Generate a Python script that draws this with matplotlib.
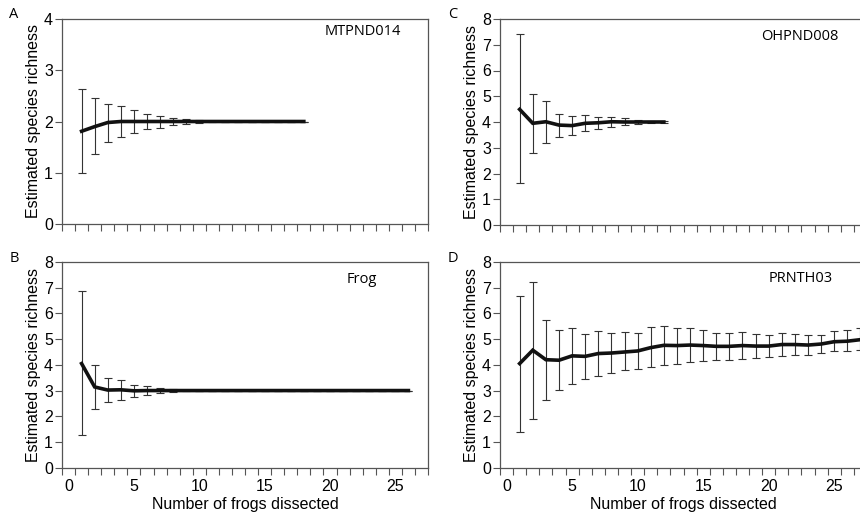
import numpy as np
import matplotlib
matplotlib.use('Agg')
import matplotlib.pyplot as plt
from matplotlib.ticker import MultipleLocator

plt.rcParams['font.family'] = ['Liberation Sans', 'DejaVu Sans']
plt.rcParams['font.size'] = 11

# Panel A - MTPND014
a_mean = [1.81, 1.90, 1.98, 2.0, 2.0, 2.0, 2.0, 2.0, 2.0, 2.0, 2.0, 2.0, 2.0, 2.0, 2.0, 2.0, 2.0, 2.0]
a_low = [1.00, 1.36, 1.60, 1.69, 1.78, 1.85, 1.88, 1.93, 1.95, 1.98, 1.99, 2.0, 2.0, 2.0, 2.0, 2.0, 2.0, 2.0]
a_high = [2.63, 2.45, 2.34, 2.30, 2.22, 2.14, 2.11, 2.06, 2.04, 2.02, 2.01, 2.0, 2.0, 2.0, 2.0, 2.0, 2.0, 2.0]

# Panel B - Frog
b_mean = [4.05, 3.14, 3.02, 3.03, 2.99, 3.0, 3.0, 3.0, 3.0] + [3.0] * 17
b_low = [1.26, 2.30, 2.54, 2.62, 2.75, 2.83, 2.91, 2.95, 2.98] + [3.0] * 17
b_high = [6.87, 3.98, 3.48, 3.42, 3.23, 3.16, 3.09, 3.05, 3.02] + [3.0] * 17

# Panel C - OHPND008
c_mean = [4.49, 3.95, 4.01, 3.88, 3.86, 3.95, 3.97, 4.01, 4.0, 4.0, 4.0, 4.0]
c_low = [1.62, 2.78, 3.20, 3.43, 3.48, 3.64, 3.73, 3.82, 3.88, 3.92, 3.95, 3.97]
c_high = [7.40, 5.07, 4.80, 4.30, 4.22, 4.26, 4.21, 4.18, 4.14, 4.09, 4.05, 4.03]

# Panel D - PRNTH03
d_mean = [4.05, 4.57, 4.20, 4.18, 4.35, 4.33, 4.44, 4.46, 4.50, 4.54, 4.67, 4.76, 4.75, 4.77,
          4.75, 4.72, 4.72, 4.75, 4.73, 4.73, 4.79, 4.79, 4.77, 4.81, 4.90, 4.92, 4.98]
d_low = [1.39, 1.91, 2.65, 3.01, 3.24, 3.44, 3.57, 3.67, 3.79, 3.85, 3.92, 3.98, 4.05, 4.10,
         4.14, 4.18, 4.20, 4.24, 4.28, 4.31, 4.36, 4.37, 4.38, 4.46, 4.53, 4.54, 4.56]
d_high = [6.69, 7.21, 5.76, 5.37, 5.45, 5.21, 5.32, 5.25, 5.27, 5.25, 5.46, 5.51, 5.45, 5.45,
          5.34, 5.25, 5.24, 5.27, 5.20, 5.18, 5.23, 5.21, 5.16, 5.15, 5.32, 5.34, 5.42]

panels = [
    ('A', 'MTPND014', a_mean, a_low, a_high, 4, [62, 224, 366, 205], (0.821, 0.937), (14, 15)),
    ('B', 'Frog', b_mean, b_low, b_high, 8, [62, 467.7, 366, 205.7], (0.82, 0.914), (14, 259)),
    ('C', 'OHPND008', c_mean, c_low, c_high, 8, [500, 225, 367, 206], (0.817, 0.914), (453, 15)),
    ('D', 'PRNTH03', d_mean, d_low, d_high, 8, [500, 467.7, 367, 205.7], (0.82, 0.919), (453, 259)),
]

W, H = 860, 514
fig = plt.figure(figsize=(W / 100, H / 100), dpi=100)
spine_col = '#555555'

for letter, name, mean, low, high, ymax, box, tpos, lpos in panels:
    left, bottom, width, height = box
    ax = fig.add_axes([left / W, (H - bottom) / H, width / W, height / H])
    mean = np.array(mean)
    x = np.arange(1, len(mean) + 1)
    yerr = [mean - np.array(low), np.array(high) - mean]
    ax.errorbar(x, mean, yerr=yerr, fmt='none', ecolor='#333333', elinewidth=0.8,
                capsize=2.6, capthick=0.8, zorder=2)
    ax.plot(x, mean, color='#111111', lw=2.6, solid_joinstyle='miter', zorder=3)

    ax.set_xlim(-0.5, 27.5)
    ax.set_ylim(0, ymax)
    ax.xaxis.set_major_locator(MultipleLocator(5))
    ax.xaxis.set_minor_locator(MultipleLocator(1, offset=0.5))
    ax.yaxis.set_major_locator(MultipleLocator(1))
    ax.tick_params(axis='x', which='major', length=0, pad=8, labelsize=11.5)
    ax.tick_params(axis='x', which='minor', length=5, width=0.8, color=spine_col, direction='out')
    ax.tick_params(axis='y', length=5, width=0.8, color=spine_col, pad=1.5, labelsize=11.5)
    for s in ax.spines.values():
        s.set_color(spine_col)
        s.set_linewidth(0.9)

    ax.set_ylabel('Estimated species richness', fontsize=11.5, labelpad=2)
    if letter in ('B', 'D'):
        ax.set_xlabel('Number of frogs dissected', fontsize=11.5, labelpad=2)
    else:
        ax.set_xticklabels([])

    ax.text(tpos[0], tpos[1], name, transform=ax.transAxes, ha='center', va='center',
            fontsize=10.5, family=['Open Sans', 'DejaVu Sans'])
    fig.text(lpos[0] / W, 1 - lpos[1] / H, letter, ha='center', va='center',
             fontsize=10.5, family=['Open Sans', 'DejaVu Sans'])

fig.savefig('out.png', dpi=100)
